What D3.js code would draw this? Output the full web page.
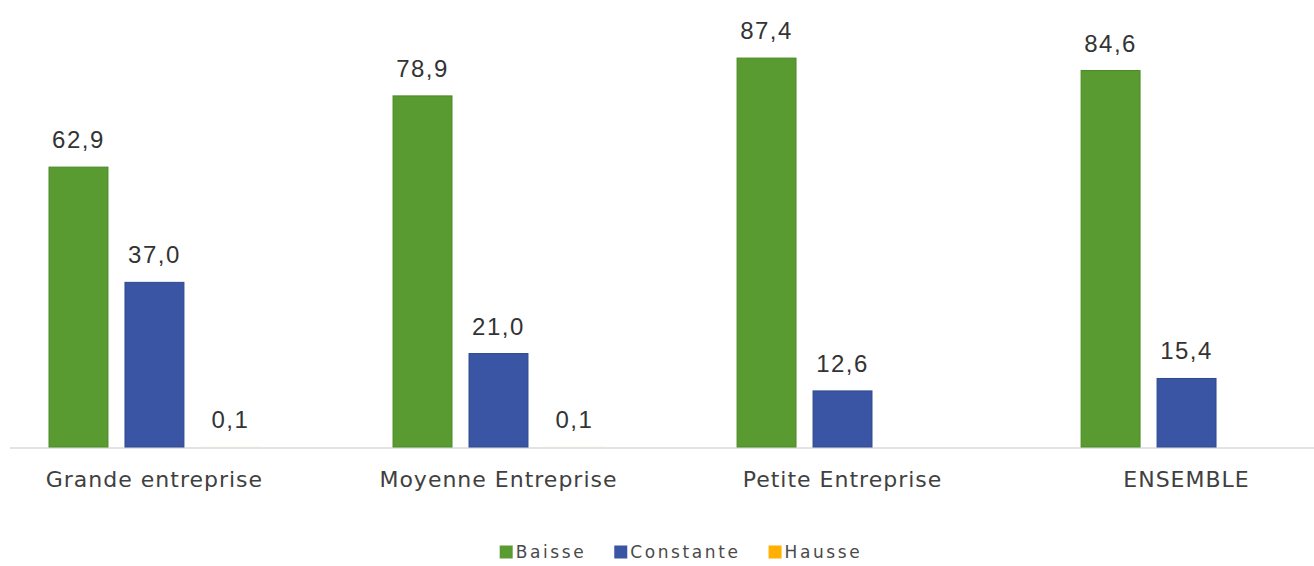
<!DOCTYPE html>
<html>
<head>
<meta charset="utf-8">
<script src="https://cdn.jsdelivr.net/npm/d3@7"></script>
<style>
html,body{margin:0;padding:0;background:#fff;}
svg{display:block;}
</style>
</head>
<body>
<svg id="chart" width="1314" height="566"></svg>
<script>
const categories = ["Grande entreprise", "Moyenne Entreprise", "Petite Entreprise", "ENSEMBLE"];
const seriesNames = ["Baisse", "Constante", "Hausse"];
const baisse = [62.9, 78.9, 87.4, 84.6];
const constante = [37.0, 21.0, 12.6, 15.4];
const hausse = [0.1, 0.1, null, null];
const colors = ["#5a9b31", "#3a55a3", "#ffb000"];
const strokes = ["#4a8a27", "#2f4890", "#e09a00"];

const seriesValues = [baisse, constante, hausse];
const svg = d3.select("#chart");
const W = 1314, H = 566;
const baseY = 447;

const x0 = d3.scaleBand().domain(categories).range([10, 1331]).paddingInner(0.387).paddingOuter(0.1134);
const x1 = d3.scaleBand().domain(seriesNames).range([0, x0.bandwidth()]).paddingInner(0.224).paddingOuter(0);
const y = d3.scaleLinear().domain([0, 100]).range([baseY, 2]);

const fmt = v => d3.format(".1f")(v).replace(".", ",");

// axis line
const xAxis = d3.axisBottom(x0).tickSize(0).tickFormat("");
const ax = svg.append("g").attr("transform", `translate(0,${baseY + 1})`).call(xAxis);
ax.select(".domain").attr("d", `M10,0H${W}`).attr("stroke", "#e3e3e3").attr("stroke-width", 2);

const groups = svg.append("g").selectAll("g").data(categories).join("g")
  .attr("transform", d => `translate(${x0(d)},0)`);

seriesNames.forEach((s, si) => {
  const vals = seriesValues[si];
  groups.each(function(c, ci) {
    const v = vals[ci];
    if (v === null || v === undefined) return;
    const g = d3.select(this);
    g.append("rect")
      .attr("x", x1(s))
      .attr("y", y(v))
      .attr("width", x1.bandwidth())
      .attr("height", Math.max(0, baseY - y(v)))
      .attr("fill", colors[si])
      .attr("fill-opacity", v > 1 ? 1 : 0.15)
      .attr("stroke", v > 1 ? strokes[si] : "none")
      .attr("stroke-width", 1);
    g.append("text")
      .attr("x", x1(s) + x1.bandwidth() / 2)
      .attr("y", y(v) - 19)
      .attr("text-anchor", "middle")
      .attr("font-family", "'Liberation Sans', Arial, sans-serif")
      .attr("font-size", 24)
      .attr("letter-spacing", "1.5px")
      .attr("fill", "#333")
      .text(fmt(v));
  });
});

// category labels
svg.append("g").selectAll("text").data(categories).join("text")
  .attr("x", d => x0(d) + x0.bandwidth() / 2)
  .attr("y", 487)
  .attr("text-anchor", "middle")
  .attr("font-family", "'DejaVu Sans', sans-serif")
  .attr("font-size", 22)
  .attr("letter-spacing", "1px")
  .attr("fill", "#404040")
  .text(d => d);

// legend
const leg = svg.append("g");
const items = leg.selectAll("g").data(seriesNames).join("g");
items.append("rect").attr("width", 13).attr("height", 13).attr("y", -6.5)
  .attr("fill", (d, i) => colors[i]);
items.append("text").attr("x", 16).attr("y", 0).attr("dy", "0.36em")
  .attr("font-family", "'DejaVu Sans', sans-serif")
  .attr("font-size", 17)
  .attr("letter-spacing", "2.6px")
  .attr("fill", "#4a4a4a")
  .text(d => d);
let xpos = 0;
const gaps = 28;
items.each(function() {
  const g = d3.select(this);
  g.attr("transform", `translate(${xpos},0)`);
  const tw = g.select("text").node().getComputedTextLength();
  xpos += 16 + tw + gaps;
});
const totalW = xpos - gaps;
leg.attr("transform", `translate(${681 - totalW / 2},${552})`);
</script>
</body>
</html>
